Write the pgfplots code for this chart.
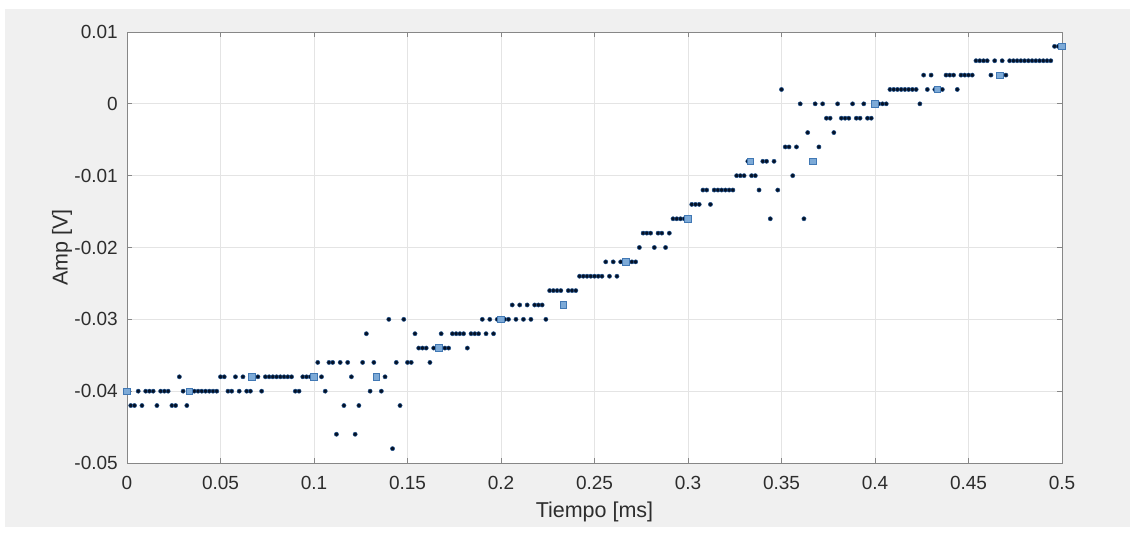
\documentclass[border=0pt]{standalone}
\usepackage{fontspec}
\setmainfont{Liberation Sans}
\usepackage{pgfplots}
\pgfplotsset{compat=1.18}

\definecolor{figbg}{RGB}{240,240,240}
\definecolor{axgray}{RGB}{135,135,135}
\definecolor{gridgray}{RGB}{228,228,228}
\definecolor{txtgray}{RGB}{45,45,45}
\definecolor{dotfill}{RGB}{5,18,38}
\definecolor{dotedge}{RGB}{30,80,140}
\definecolor{sqfill}{RGB}{125,170,215}
\definecolor{sqedge}{RGB}{65,120,180}

\begin{document}
\begin{tikzpicture}
\useasboundingbox (0pt,0pt) rectangle (1135pt,536pt);
\fill[white] (0pt,0pt) rectangle (1135pt,536pt);
\fill[figbg] (5pt,9pt) rectangle (1130pt,527pt);

\begin{axis}[
    at={(127pt,73pt)}, anchor=south west,
    scale only axis, width=935pt, height=431pt,
    xmin=0, xmax=0.5, ymin=-0.05, ymax=0.01,
    axis background/.style={fill=white},
    scaled ticks=false,
    xtick={0,0.05,0.1,0.15,0.2,0.25,0.3,0.35,0.4,0.45,0.5},
    xticklabels={0,0.05,0.1,0.15,0.2,0.25,0.3,0.35,0.4,0.45,0.5},
    ytick={-0.05,-0.04,-0.03,-0.02,-0.01,0,0.01},
    yticklabels={-0.05,-0.04,-0.03,-0.02,-0.01,0,0.01},
    tick align=inside, major tick length=5pt,
    tick style={color=axgray, line width=0.8pt},
    axis line style={color=axgray, line width=0.9pt},
    grid=major, major grid style={color=gridgray, line width=0.7pt},
    ticklabel style={font=\fontsize{19}{22}\selectfont, text=txtgray, inner sep=0pt},
    xticklabel style={yshift=-13pt},
    yticklabel style={xshift=-9pt},
    xlabel={Tiempo [ms]}, ylabel={Amp [V]},
    xlabel style={at={(axis description cs:0.5,-0.1137)}, anchor=center,
        font=\fontsize{21.5}{25}\selectfont, text=txtgray},
    ylabel style={at={(axis description cs:-0.0695,0.5)}, anchor=center,
        font=\fontsize{21.5}{25}\selectfont, text=txtgray},
    clip mode=individual,
]
% muestras (cada 0.002 ms)
\addplot[only marks, mark=*, mark size=2.1pt,
    mark options={fill=dotfill, draw=dotedge, line width=0.5pt}] coordinates {
(0,-0.040) (0.002,-0.042) (0.004,-0.042) (0.006,-0.040) (0.008,-0.042) (0.010,-0.040) (0.012,-0.040) (0.014,-0.040) (0.016,-0.042) (0.018,-0.040)
(0.020,-0.040) (0.022,-0.040) (0.024,-0.042) (0.026,-0.042) (0.028,-0.038) (0.030,-0.040) (0.032,-0.042) (0.034,-0.040) (0.036,-0.040) (0.038,-0.040)
(0.040,-0.040) (0.042,-0.040) (0.044,-0.040) (0.046,-0.040) (0.048,-0.040) (0.050,-0.038) (0.052,-0.038) (0.054,-0.040) (0.056,-0.040) (0.058,-0.038)
(0.060,-0.040) (0.062,-0.038) (0.064,-0.040) (0.066,-0.040) (0.068,-0.038) (0.070,-0.038) (0.072,-0.040) (0.074,-0.038) (0.076,-0.038) (0.078,-0.038)
(0.080,-0.038) (0.082,-0.038) (0.084,-0.038) (0.086,-0.038) (0.088,-0.038) (0.090,-0.040) (0.092,-0.040) (0.094,-0.038) (0.096,-0.038) (0.098,-0.038)
(0.100,-0.038) (0.102,-0.036) (0.104,-0.038) (0.106,-0.040) (0.108,-0.036) (0.110,-0.036) (0.112,-0.046) (0.114,-0.036) (0.116,-0.042) (0.118,-0.036)
(0.120,-0.038) (0.122,-0.046) (0.124,-0.042) (0.126,-0.036) (0.128,-0.032) (0.130,-0.040) (0.132,-0.036) (0.134,-0.038) (0.136,-0.040) (0.138,-0.038)
(0.140,-0.030) (0.142,-0.048) (0.144,-0.036) (0.146,-0.042) (0.148,-0.030) (0.150,-0.036) (0.152,-0.036) (0.154,-0.032) (0.156,-0.034) (0.158,-0.034)
(0.160,-0.034) (0.162,-0.036) (0.164,-0.034) (0.166,-0.034) (0.168,-0.032) (0.170,-0.034) (0.172,-0.034) (0.174,-0.032) (0.176,-0.032) (0.178,-0.032)
(0.180,-0.032) (0.182,-0.034) (0.184,-0.032) (0.186,-0.032) (0.188,-0.032) (0.190,-0.030) (0.192,-0.032) (0.194,-0.030) (0.196,-0.032) (0.198,-0.030)
(0.200,-0.030) (0.202,-0.030) (0.204,-0.030) (0.206,-0.028) (0.208,-0.030) (0.210,-0.028) (0.212,-0.030) (0.214,-0.028) (0.216,-0.030) (0.218,-0.028)
(0.220,-0.028) (0.222,-0.028) (0.224,-0.030) (0.226,-0.026) (0.228,-0.026) (0.230,-0.026) (0.232,-0.026) (0.234,-0.028) (0.236,-0.026) (0.238,-0.026)
(0.240,-0.026) (0.242,-0.024) (0.244,-0.024) (0.246,-0.024) (0.248,-0.024) (0.250,-0.024) (0.252,-0.024) (0.254,-0.024) (0.256,-0.022) (0.258,-0.024)
(0.260,-0.022) (0.262,-0.024) (0.264,-0.022) (0.266,-0.022) (0.268,-0.022) (0.270,-0.022) (0.272,-0.022) (0.274,-0.020) (0.276,-0.018) (0.278,-0.018)
(0.280,-0.018) (0.282,-0.020) (0.284,-0.018) (0.286,-0.018) (0.288,-0.020) (0.290,-0.018) (0.292,-0.016) (0.294,-0.016) (0.296,-0.016) (0.298,-0.016)
(0.300,-0.016) (0.302,-0.014) (0.304,-0.014) (0.306,-0.014) (0.308,-0.012) (0.310,-0.012) (0.312,-0.014) (0.314,-0.012) (0.316,-0.012) (0.318,-0.012)
(0.320,-0.012) (0.322,-0.012) (0.324,-0.012) (0.326,-0.010) (0.328,-0.010) (0.330,-0.010) (0.332,-0.008) (0.334,-0.010) (0.336,-0.010) (0.338,-0.012)
(0.340,-0.008) (0.342,-0.008) (0.344,-0.016) (0.346,-0.008) (0.348,-0.012) (0.350,0.002) (0.352,-0.006) (0.354,-0.006) (0.356,-0.010) (0.358,-0.006)
(0.360,0) (0.362,-0.016) (0.364,-0.004) (0.366,-0.008) (0.368,0) (0.370,-0.006) (0.372,0) (0.374,-0.002) (0.376,-0.002) (0.378,-0.004)
(0.380,0) (0.382,-0.002) (0.384,-0.002) (0.386,-0.002) (0.388,0) (0.390,-0.002) (0.392,-0.002) (0.394,0) (0.396,-0.002) (0.398,-0.002)
(0.400,0) (0.402,0) (0.404,0) (0.406,0) (0.408,0.002) (0.410,0.002) (0.412,0.002) (0.414,0.002) (0.416,0.002) (0.418,0.002)
(0.420,0.002) (0.422,0.002) (0.424,0) (0.426,0.004) (0.428,0.002) (0.430,0.004) (0.432,0.002) (0.434,0.002) (0.436,0.002) (0.438,0.004)
(0.440,0.004) (0.442,0.004) (0.444,0.002) (0.446,0.004) (0.448,0.004) (0.450,0.004) (0.452,0.004) (0.454,0.006) (0.456,0.006) (0.458,0.006)
(0.460,0.006) (0.462,0.004) (0.464,0.006) (0.466,0.004) (0.468,0.006) (0.470,0.004) (0.472,0.006) (0.474,0.006) (0.476,0.006) (0.478,0.006)
(0.480,0.006) (0.482,0.006) (0.484,0.006) (0.486,0.006) (0.488,0.006) (0.490,0.006) (0.492,0.006) (0.494,0.006) (0.496,0.008) (0.498,0.008) (0.500,0.008)
};
% muestras submuestreadas
\addplot[only marks, mark=square*, mark size=3.3pt,
    mark options={fill=sqfill, draw=sqedge, line width=0.6pt}] coordinates {
(0,-0.040) (0.03333,-0.040) (0.06667,-0.038) (0.1,-0.038) (0.13333,-0.038) (0.16667,-0.034)
(0.2,-0.030) (0.23333,-0.028) (0.26667,-0.022) (0.3,-0.016) (0.33333,-0.008) (0.36667,-0.008)
(0.4,0) (0.43333,0.002) (0.46667,0.004) (0.5,0.008)
};
\end{axis}
\end{tikzpicture}
\end{document}
